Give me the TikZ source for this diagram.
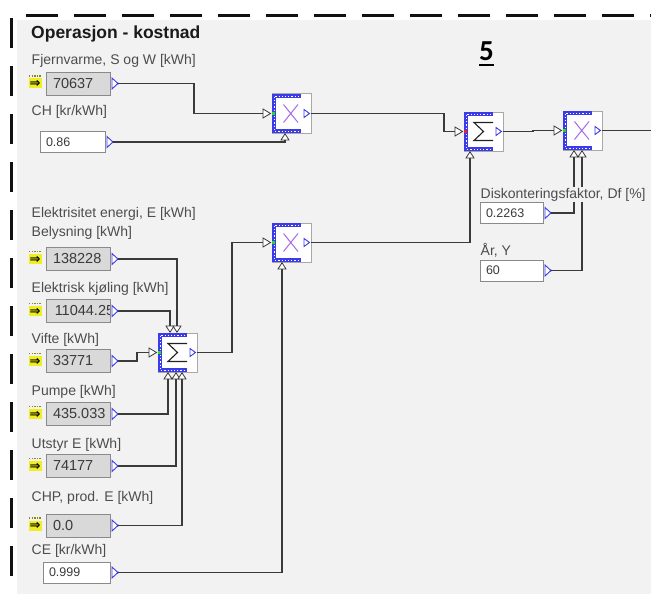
\documentclass[tikz,border=0pt]{standalone}
\usepackage{fontspec}
\setmainfont{Liberation Sans}
\newfontfamily\symfont{DejaVu Sans}
\newfontfamily\numfont{Carlito}
\definecolor{panel}{HTML}{F2F2F2}
\definecolor{dashc}{HTML}{111111}
\definecolor{wirec}{HTML}{3A3A3A}
\definecolor{blk}{HTML}{3C3CE6}
\definecolor{xcol}{HTML}{A66BE8}
\definecolor{sigc}{HTML}{222222}
\definecolor{opedge}{HTML}{A8A8A8}
\definecolor{boxg}{HTML}{D9D9D9}
\definecolor{boxe}{HTML}{8A8A8A}
\definecolor{lblc}{HTML}{4D4D4D}
\definecolor{valc}{HTML}{3A3A3A}
\definecolor{titlec}{HTML}{1A1A1A}
\definecolor{portc}{HTML}{3A3A3A}
\definecolor{dotg}{HTML}{22DD22}
\definecolor{dotr}{HTML}{EE2222}
\definecolor{yel}{HTML}{EEEE22}
\definecolor{dotc}{HTML}{8A8A10}
\newcommand\valfont{\fontsize{14.5}{14.5}\selectfont}
\tikzset{
  wire/.style={draw=wirec, line width=1.2pt},
  lbl/.style={anchor=base west, inner xsep=0.5pt, inner ysep=1pt, text=lblc, fill=panel, font=\fontsize{14}{14}\selectfont},
  valbox/.style={draw=boxe, fill=boxg, line width=0.9pt, minimum height=23pt, inner xsep=7pt, inner ysep=0pt, text width=50pt, align=left, text=valc, font=\valfont},
  constbox/.style={draw=boxe, fill=white, line width=0.9pt, minimum height=21pt, inner xsep=6pt, inner ysep=0pt, align=left, text=valc, font=\fontsize{12.5}{13}\selectfont},
  opbox/.style={draw=opedge, fill=white, line width=1pt, minimum width=39pt, minimum height=39pt, inner sep=0pt},
  inport/.style={draw=portc, fill=white, line width=0.8pt},
  outport/.style={draw=blk, fill=white, line width=0.9pt},
}
\newcommand\outtri[1]{%
  \coordinate (#1o) at ([xshift=8pt]#1.east);
  \draw[outport] ([xshift=1.5pt,yshift=5.5pt]#1.east) -- ([xshift=7.5pt]#1.east) -- ([xshift=1.5pt,yshift=-5.5pt]#1.east) -- cycle;
  \fill[blk] ([xshift=7.5pt]#1.east) circle (1.2pt);
}
\newcommand\feedicon[1]{%
  \fill[yel] ([xshift=-17pt,yshift=5pt]#1.west) rectangle ([xshift=-4pt,yshift=-5pt]#1.west);
  \draw[dotc, line width=1.4pt, dash pattern=on 1.4pt off 1.2pt] ([xshift=-16.5pt,yshift=7.5pt]#1.west) -- ([xshift=-5pt,yshift=7.5pt]#1.west);
  \node[inner sep=0pt, font=\symfont\bfseries\fontsize{13}{13}\selectfont] (#1a) at ([xshift=-10.5pt,yshift=-0.5pt]#1.west) {⇒};
}
\newcommand\symX{\draw[xcol, line width=1pt] (11.5,10.5) -- (26,28.5) (26,10.5) -- (11.5,28.5);}
\newcommand\symS{\draw[sigc, line width=1.1pt, line join=miter] (29,10.5) -- (10,10.5) -- (19.5,19.5) -- (10,28.5) -- (29,28.5);}
\newcommand\opblock[5]{%
  \begin{scope}[shift={(#2,#3)}]
    \node[opbox] (#1) at (19.5,19.5) {};
    \draw[blk, line width=4.2pt] (29,2.1) -- (2.1,2.1) -- (2.1,36.9) -- (29,36.9);
    \draw[white, line width=0.7pt, dash pattern=on 1.2pt off 2pt] (27,2.1) -- (2.1,2.1) -- (2.1,36.9) -- (27,36.9);
    #4
    \draw[outport] (32,15.5) -- (37.5,19.5) -- (32,23.5) -- cycle;
    \coordinate (#1o) at (39,19.5);
    \draw[inport] (-9,15) -- (-1.5,19.5) -- (-9,24) -- cycle;
    \coordinate (#1i) at (-9,19.5);
    \fill[#5] (-0.5,18) rectangle (2.5,21);
  \end{scope}
}
\newcommand\portU[3]{%
  \draw[inport] (#2-4,#3+7) -- (#2,#3+0.8) -- (#2+4,#3+7) -- cycle;
  \coordinate (#1) at (#2,#3+7);
}
\newcommand\portD[3]{%
  \draw[inport] (#2-4,#3-7) -- (#2,#3-0.8) -- (#2+4,#3-7) -- cycle;
  \coordinate (#1) at (#2,#3-7);
}
\begin{document}
\begin{tikzpicture}[x=1pt,y=-1pt]
\useasboundingbox (0,0) rectangle (651,594);
\fill[white] (0,0) rectangle (651,594);
\fill[panel] (17,20) rectangle (651,594);
\draw[dashc, line width=2.5pt, dash pattern=on 32pt off 16pt] (26,15.5) -- (651,15.5);
\draw[dashc, line width=2.5pt, dash pattern=on 30pt off 18pt] (11.5,18) -- (11.5,594);

% value boxes
\node[valbox] (v1) at (78,83.5) {70637};
\node[valbox] (v2) at (78,259) {138228};
\node[valbox] (v3) at (78,311) {};
\begin{scope}
  \clip ([xshift=0.5pt]v3.south west) rectangle ([xshift=-0.5pt]v3.north east);
  \node[anchor=west, inner sep=0pt, text=valc, font=\valfont] (v3t) at ([xshift=9pt]v3.west) {11044.25};
\end{scope}
\node[valbox] (v4) at (78,361) {33771};
\node[valbox] (v5) at (78,414) {435.033};
\node[valbox] (v6) at (78,466) {74177};
\node[valbox] (v7) at (78,525.5) {0.0};

\node[constbox, text width=53pt] (c1) at (72.5,142) {0.86};
\node[constbox, text width=55pt] (c2) at (76.5,572.5) {0.999};
\node[constbox, text width=51pt] (c3) at (511.5,213) {0.2263};
\node[constbox, text width=51pt] (c4) at (511.5,270.5) {60};

\foreach \n in {v1,v2,v3,v4,v5,v6,v7,c1,c2,c3,c4} {\outtri{\n}}
\foreach \n in {v1,v2,v3,v4,v5,v6,v7} {\feedicon{\n}}

% operator blocks
\opblock{X1}{272}{94}{\symX}{dotg}
\opblock{X2}{272}{223}{\symX}{dotg}
\opblock{S1}{464}{112}{\symS}{dotr}
\opblock{X3}{563}{111}{\symX}{dotg}
\opblock{S2}{158}{333}{\symS}{dotg}

\portU{X1b}{285}{133}
\portU{X2b}{282}{262}
\portU{S1b}{470}{151}
\portU{X3b1}{574}{150}
\portU{X3b2}{582}{150}
\portD{S2t1}{170}{333}
\portD{S2t2}{177}{333}
\portU{S2b1}{168}{372}
\portU{S2b2}{176}{372}
\portU{S2b3}{182}{372}
\coordinate (outR) at (651,130.5);

% wires
\draw[wire] (v1o) -| (194,0 |- X1i) -- (X1i);
\draw[wire] (c1o) -| (X1b);
\draw[wire] (X1o) -| (444,0 |- S1i) -- (S1i);
\draw[wire] (X2o) -| (S1b);
\draw[wire] (S1o) -| (533,0 |- X3i) -- (X3i);
\draw[wire] (X3o) -- (outR);
\draw[wire] (c3o) -| (X3b1);
\draw[wire] (c4o) -| (X3b2);
\draw[wire] (v2o) -| (S2t2);
\draw[wire] (v3o) -| (S2t1);
\draw[wire] (v4o) -| (137,0 |- S2i) -- (S2i);
\draw[wire] (v5o) -| (S2b1);
\draw[wire] (v6o) -| (S2b2);
\draw[wire] (v7o) -| (S2b3);
\draw[wire] (c2o) -| (X2b);
\draw[wire] (S2o) -| (232,0 |- X2i) -- (X2i);

% texts
\node[anchor=base west, inner sep=0pt, text=titlec, font=\bfseries\fontsize{17.5}{18}\selectfont] (title) at (31,39) {Operasjon - kostnad};
\node[anchor=base west, inner sep=0pt, text=black, font=\numfont\bfseries\fontsize{29}{29}\selectfont] (num) at (479,61) {5};
\draw[black, line width=2pt] ([yshift=-4.5pt]num.base west) -- ([yshift=-4.5pt]num.base east);

\node[lbl] (l1) at (31,65) {Fjernvarme, S og W [kWh]};
\node[lbl] (l2) at (31,116) {CH [kr/kWh]};
\node[lbl] (l3) at (31,217) {Elektrisitet energi, E [kWh]};
\node[lbl] (l4) at (31,236) {Belysning [kWh]};
\node[lbl] (l5) at (31,292) {Elektrisk kjøling [kWh]};
\node[lbl] (l6) at (31,343) {Vifte [kWh]};
\node[lbl] (l7) at (31,395) {Pumpe [kWh]};
\node[lbl] (l8) at (31,448) {Utstyr E [kWh]};
\node[lbl] (l9) at (31,501) {CHP, prod. E [kWh]};
\node[lbl] (l10) at (31,554) {CE [kr/kWh]};
\node[lbl] (l11) at (480,198) {Diskonteringsfaktor, Df [\%]};
\node[lbl] (l12) at (480,255) {År, Y};
\end{tikzpicture}
\end{document}
